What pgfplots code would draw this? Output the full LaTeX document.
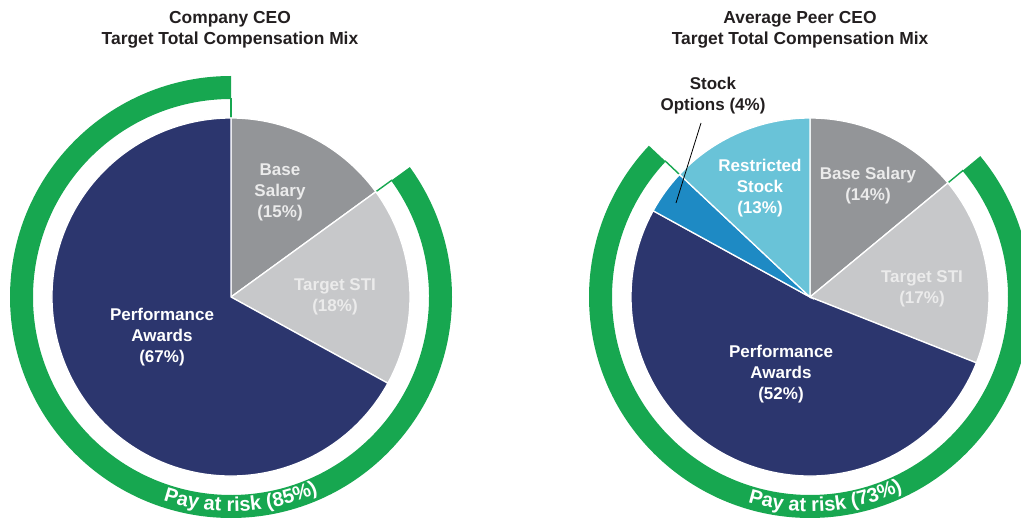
\documentclass[border=0pt]{standalone}
\usepackage{fontspec}
\setmainfont{Liberation Sans}
\usepackage{pgfplots}
\pgfplotsset{compat=1.18}
\usetikzlibrary{decorations.text}
\definecolor{navy}{HTML}{2C366E}
\definecolor{basegray}{HTML}{939598}
\definecolor{stigray}{HTML}{C7C8CA}
\definecolor{riskgreen}{HTML}{17A750}
\definecolor{rsblue}{HTML}{69C3D8}
\definecolor{optblue}{HTML}{1E8AC4}
\definecolor{titlecol}{HTML}{231F20}
% slice: cx, cy, radius, start angle, end angle, colour
\newcommand{\slice}[6]{%
  \fill[#6, draw=white, line width=1.3pt] (#1,#2) -- ++({#4}:#3pt) arc[start angle={#4}, end angle={#5}, radius=#3pt] -- cycle;}
% ring: cx, cy, start angle, end angle
\newcommand{\ring}[4]{%
  \fill[riskgreen] (#1,#2) ++({#3}:221pt) arc[start angle={#3}, end angle={#4}, radius=221pt] -- ++({#4+180}:23pt) arc[start angle={#4}, end angle={#3}, radius=198pt] -- cycle;
  \draw[riskgreen, line width=1.4pt] (#1,#2) ++({#3}:179pt) -- ++({#3}:20pt);
  \draw[riskgreen, line width=1.4pt] (#1,#2) ++({#4}:179pt) -- ++({#4}:20pt);}
\begin{document}
\begin{tikzpicture}
\begin{axis}[scale only axis, width=1021pt, height=520pt,
  xmin=0, xmax=1021, ymin=0, ymax=520, hide axis, clip=false]
% ---------------- Company CEO: Base 15, STI 18, Performance 67 ----------------
\ring{231}{223}{90}{90-3.6*15+360}
\slice{231}{223}{179}{90}{90-3.6*15}{basegray}
\slice{231}{223}{179}{90-3.6*15}{90-3.6*(15+18)}{stigray}
\slice{231}{223}{179}{90-3.6*(15+18)}{90-3.6*(15+18+67)}{navy}
\path[decorate, decoration={text along path, text align=center,
  text={|\color{white}\bfseries\fontsize{20}{20}\selectfont|Pay at risk (85{\%})}}]
  (231,223) ++(-135:214.5pt) arc[start angle=-135, end angle=-39.4, radius=214.5pt];
% ---------------- Peer CEO: Base 14, STI 17, Perf 52, Options 4, Restricted 13 ----------------
\ring{810}{223}{90+3.6*13}{90-3.6*14+360}
\slice{810}{223}{179}{90}{90-3.6*14}{basegray}
\slice{810}{223}{179}{90-3.6*14}{90-3.6*(14+17)}{stigray}
\slice{810}{223}{179}{90-3.6*(14+17)}{90-3.6*(14+17+52)}{navy}
\slice{810}{223}{179}{90-3.6*(14+17+52)}{90-3.6*(14+17+52+4)}{optblue}
\slice{810}{223}{179}{90-3.6*(14+17+52+4)}{90-3.6*(14+17+52+4+13)}{rsblue}
\path[decorate, decoration={text along path, text align=center,
  text={|\color{white}\bfseries\fontsize{20}{20}\selectfont|Pay at risk (73{\%})}}]
  (810,223) ++(-135:214.5pt) arc[start angle=-135, end angle=-36.2, radius=214.5pt];
\draw[black, line width=0.8pt] (701,397) -- (676,317);
% ---------------- labels ----------------
\begin{scope}[every node/.style={font=\bfseries\fontsize{17}{21}\selectfont, align=center, inner sep=0pt}]
\node[text=titlecol, font=\bfseries\fontsize{17.4}{21}\selectfont] at (230,490.5) {Company CEO\\Target Total Compensation Mix};
\node[text=titlecol, font=\bfseries\fontsize{17.4}{21}\selectfont] at (800,490.5) {Average Peer CEO\\Target Total Compensation Mix};
\node[text=white!92!black] at (280,328) {Base\\Salary\\(15\%)};
\node[text=white!92!black] at (335,223) {Target STI\\(18\%)};
\node[text=white] at (162,183) {Performance\\Awards\\(67\%)};
\node[text=titlecol] at (713,424.5) {Stock\\Options (4\%)};
\node[text=white] at (760,332) {Restricted\\Stock\\(13\%)};
\node[text=white!92!black] at (868,334) {Base Salary\\(14\%)};
\node[text=white!92!black] at (922,231) {Target STI\\(17\%)};
\node[text=white] at (781,146) {Performance\\Awards\\(52\%)};
\end{scope}
\end{axis}
\pgfresetboundingbox
\useasboundingbox (current axis.south west) rectangle (current axis.north east);
\end{tikzpicture}
\end{document}
